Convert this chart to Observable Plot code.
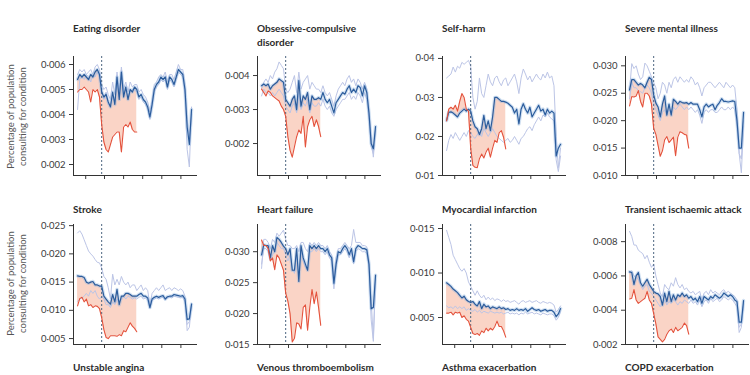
<!DOCTYPE html>
<html><head><meta charset="utf-8">
<script src="https://cdn.jsdelivr.net/npm/d3@7"></script>
<script src="https://cdn.jsdelivr.net/npm/@observablehq/plot@0.6"></script>
<style>
body{margin:0;background:#fff;overflow:hidden}
#root{position:relative;width:750px;height:375px;overflow:hidden;font-family:Lato,"Open Sans",sans-serif;background:#fff}
.title{position:absolute;font-weight:700;font-size:10px;line-height:14px;color:#2b2b2b;white-space:nowrap}
.title.next{line-height:12px}
.ylab{position:absolute;width:130px;font-size:9.5px;line-height:11.5px;color:#555;text-align:center;transform:rotate(-90deg);white-space:nowrap}
.panel{position:absolute}
</style></head><body><div id="root"></div>
<script>
// ---- x: weekly dates, lockdown, tick marks (unlabelled) ----
const firstWeek = "2020-01-06";
const nWeeks = 53;
const lockdownDate = "2020-03-23";
const xTickDates = ["2020-02-01","2020-04-01","2020-06-01","2020-08-01","2020-10-01","2020-12-01"];
const xDomainDates = ["2019-12-24","2021-01-23"];

// ---- titles ----
const titles = [["Eating disorder"],["Obsessive-compulsive","disorder"],["Self-harm"],["Severe mental illness"],
  ["Stroke"],["Heart failure"],["Myocardial infarction"],["Transient ischaemic attack"]];
const nextRowTitles = ["Unstable angina","Venous thromboembolism","Asthma exacerbation","COPD exacerbation"];
const yAxisLabel = ["Percentage of population","consulting for condition"];

// ---- y tick values ----
const eatingTicks=[0.002,0.003,0.004,0.005,0.006];
const ocdTicks=[0.002,0.003,0.004];
const selfHarmTicks=[0.01,0.02,0.03,0.04];
const smiTicks=[0.010,0.015,0.020,0.025,0.030];
const strokeTicks=[0.005,0.010,0.015,0.020,0.025];
const hfTicks=[0.015,0.020,0.025,0.030];
const miTicks=[0.005,0.010,0.015];
const tiaTicks=[0.002,0.004,0.006,0.008];

// ---- series: blue = expected, light1/light2 = comparison years, red = observed 2020 ----
const eatingBlue=[.0054,.0056,.0055,.0056,.0055,.0054,.0056,.0055,.0057,.0058,.0056,.0049,.0047,.0048,.0045,.0043,.0049,.0044,.0055,.0046,.0057,.0047,.0051,.0046,.0050,.0049,.0051,.0050,.0047,.0048,.0046,.0045,.0043,.0039,.0044,.0050,.0052,.0053,.0055,.0054,.0055,.0051,.0055,.0054,.0052,.0055,.0058,.0057,.0056,.0050,.0035,.0028,.0042];
const eatingLight1=[.0056,.0058,.0057,.0058,.0056,.0057,.0058,.0056,.0059,.0060,.0058,.0052,.0050,.0051,.0048,.0046,.0053,.0048,.0057,.0049,.0059,.0050,.0053,.0049,.0053,.0051,.0052,.0052,.0049,.0050,.0048,.0047,.0045,.0041,.0046,.0052,.0053,.0055,.0056,.0055,.0057,.0053,.0056,.0056,.0054,.0057,.0060,.0058,.0058,.0052,.0038,.0030,.0040];
const eatingLight2=[.0042,.0054,.0055,.0054,.0056,.0055,.0053,.0056,.0055,.0057,.0055,.0050,.0046,.0049,.0044,.0044,.0047,.0045,.0053,.0047,.0054,.0048,.0050,.0047,.0049,.0050,.0050,.0049,.0046,.0047,.0045,.0044,.0042,.0038,.0043,.0049,.0051,.0052,.0054,.0053,.0054,.0050,.0054,.0053,.0051,.0054,.0057,.0056,.0055,.0048,.0026,.0019,.0043];
const eatingRed=[.0049,.0050,.0050,.0051,.0050,.0049,.0045,.0050,.0049,.0050,.0047,.0036,.0029,.0026,.0025,.0028,.0031,.0032,.0033,.0033,.0025,.0035,.0036,.0035,.0037,.0034,.0033,.0033];

const ocdBlue=[.0037,.00375,.0037,.00375,.0036,.0037,.00375,.0038,.0039,.00385,.0038,.0033,.0032,.0031,.0033,.0034,.0030,.00385,.0031,.0034,.0033,.0035,.0030,.0034,.0033,.0033,.00335,.0033,.0035,.0033,.0032,.0033,.0031,.0029,.0032,.0033,.0034,.0035,.00345,.0036,.0037,.0035,.0036,.0035,.0037,.00365,.0034,.0037,.0035,.0029,.0020,.00185,.0025];
const ocdLight1=[.0036,.0038,.0039,.0038,.0040,.0039,.0041,.0042,.0044,.0043,.0042,.0036,.0035,.0036,.0038,.0040,.0035,.0041,.0036,.0038,.0039,.0040,.0036,.0038,.0037,.0036,.0036,.0035,.0037,.0035,.0034,.0035,.0033,.0031,.0034,.0036,.0037,.0038,.0037,.0039,.0040,.0038,.0039,.0037,.0039,.0038,.0036,.0038,.0036,.0030,.0022,.0016,.0024];
const ocdLight2=[.0034,.0036,.0035,.0035,.0034,.0035,.0034,.0035,.0036,.0035,.0034,.0031,.0030,.0029,.0031,.0032,.0029,.0035,.0030,.0032,.0031,.0033,.0029,.0032,.0031,.0031,.0032,.0031,.0033,.0031,.0030,.0031,.0029,.0028,.0030,.0031,.0032,.0033,.0033,.0034,.0035,.0033,.0034,.0033,.0035,.0034,.0032,.0035,.0033,.0027,.0019,.0017,.0024];
const ocdRed=[.0036,.0035,.0034,.00355,.0035,.0034,.00335,.0033,.00325,.0031,.0030,.0028,.0022,.0018,.0016,.0019,.0022,.0024,.0023,.0028,.0019,.0025,.0027,.0028,.0025,.0027,.0025,.0022];

const selfHarmBlue=[.0241,.0262,.0263,.026,.0255,.025,.026,.0265,.027,.0265,.027,.0265,.024,.0225,.022,.0205,.022,.0254,.022,.024,.0215,.025,.030,.030,.0295,.029,.029,.0288,.0285,.028,.0275,.026,.027,.0232,.027,.0284,.027,.026,.0275,.025,.026,.027,.028,.0265,.027,.0255,.027,.026,.0265,.026,.015,.017,.018];
const selfHarmLight1=[.035,.0355,.036,.0378,.0365,.038,.0375,.039,.0385,.039,.0395,.038,.030,.027,.029,.035,.031,.030,.033,.036,.034,.033,.035,.0355,.034,.033,.0345,.035,.033,.034,.035,.036,.034,.031,.035,.0373,.036,.0345,.0355,.034,.035,.036,.035,.0345,.036,.035,.0365,.035,.0355,.033,.020,.012,.017];
const selfHarmLight2=[.0164,.019,.0205,.0195,.021,.020,.019,.020,.021,.020,.0215,.021,.020,.0195,.0205,.021,.020,.022,.021,.020,.021,.022,.021,.020,.0195,.019,.0185,.019,.0195,.0185,.019,.020,.019,.018,.0195,.020,.021,.022,.0225,.0215,.023,.024,.025,.024,.0255,.025,.026,.025,.0245,.024,.014,.011,.015];
const selfHarmRed=[.024,.027,.0275,.027,.028,.0265,.029,.031,.030,.027,.0265,.017,.0126,.0121,.012,.0143,.0155,.0145,.016,.017,.0147,.017,.019,.0185,.021,.0215,.0198,.0168];

const smiBlue=[.0256,.0275,.0275,.027,.0265,.0268,.0265,.026,.027,.0279,.0275,.0247,.0232,.0225,.0207,.023,.0245,.021,.023,.021,.0239,.0235,.023,.0235,.0233,.0232,.0233,.023,.0233,.023,.023,.023,.022,.0207,.0225,.023,.0225,.0228,.023,.022,.0228,.0233,.024,.0235,.0235,.0234,.0235,.0236,.0235,.020,.015,.015,.0215];
const smiLight1=[.0255,.0304,.0295,.030,.0285,.0275,.028,.0305,.030,.029,.028,.027,.026,.024,.025,.027,.0265,.025,.027,.026,.0275,.028,.027,.028,.0275,.027,.0275,.027,.028,.0275,.0265,.027,.026,.0245,.026,.0265,.027,.027,.0265,.026,.0265,.027,.0265,.026,.027,.0265,.026,.0265,.026,.022,.014,.0105,.019];
const smiLight2=[.024,.027,.026,.026,.0255,.0253,.025,.026,.0265,.026,.025,.023,.022,.021,.020,.0215,.022,.021,.022,.0215,.0225,.022,.0225,.023,.0225,.022,.0225,.022,.0225,.022,.0215,.022,.021,.0195,.0215,.022,.0215,.022,.022,.0215,.0215,.022,.0225,.022,.022,.0225,.022,.0225,.022,.019,.014,.013,.020];
const smiRed=[.0227,.0244,.0243,.0245,.0255,.0235,.0225,.025,.025,.0245,.023,.0186,.0175,.0155,.0135,.0145,.0165,.0171,.016,.0165,.017,.0136,.017,.018,.0178,.0175,.0174,.015];

const strokeBlue=[.0161,.016,.016,.0158,.015,.0148,.015,.0151,.0145,.0145,.0143,.0143,.0125,.012,.0115,.0111,.0128,.0115,.0137,.011,.0125,.0125,.013,.013,.0128,.0125,.0125,.0125,.0128,.013,.0125,.0125,.0122,.0105,.012,.0123,.0125,.0123,.0125,.0126,.012,.0124,.0125,.0125,.0128,.0127,.0126,.0125,.0126,.012,.0084,.0085,.0111];
const strokeLight1=[.0237,.0241,.0235,.0225,.0215,.0205,.020,.0196,.019,.0185,.0184,.0175,.016,.0155,.014,.012,.0164,.0145,.0155,.0145,.016,.015,.0145,.015,.014,.0145,.0145,.0135,.014,.0145,.0135,.014,.0135,.011,.013,.0135,.014,.0135,.014,.0145,.0135,.0138,.014,.0135,.014,.0138,.0135,.0138,.0135,.0125,.0064,.007,.011];
const strokeLight2=[.0116,.012,.0122,.0125,.013,.0125,.0135,.013,.0135,.0125,.012,.0125,.012,.011,.011,.0105,.0115,.011,.012,.0115,.012,.0125,.012,.0125,.0123,.012,.0122,.012,.0123,.0125,.012,.0122,.0118,.0103,.0118,.012,.0122,.012,.0122,.0123,.0118,.0122,.0123,.0122,.0125,.0124,.0123,.0122,.0123,.0115,.0075,.008,.0112];
const strokeRed=[.0108,.0121,.0123,.0115,.012,.0108,.011,.0105,.0108,.0107,.0103,.0087,.0066,.0052,.005,.0055,.0055,.0055,.0054,.0057,.0055,.0064,.0062,.007,.0078,.0072,.0068,.0062];

const hfBlue=[.0295,.0311,.031,.031,.029,.031,.030,.0323,.032,.0315,.0309,.0305,.0295,.0305,.027,.027,.0305,.0252,.031,.029,.028,.027,.031,.0305,.031,.0305,.031,.0305,.0305,.030,.0305,.0295,.029,.0249,.028,.030,.0298,.0305,.031,.0305,.0295,.0305,.0284,.0305,.031,.0308,.0305,.0305,.0303,.028,.0208,.021,.0262];
const hfLight1=[.0273,.032,.032,.0315,.0305,.032,.0315,.033,.0325,.033,.0335,.032,.031,.031,.0305,.0305,.031,.030,.0315,.0315,.0305,.030,.0315,.031,.0315,.031,.0315,.031,.031,.0305,.031,.030,.0295,.026,.029,.0305,.0305,.031,.0315,.031,.0305,.031,.0336,.0315,.0315,.0315,.031,.031,.0308,.0285,.022,.016,.026];
const hfLight2=[.028,.0305,.0305,.030,.0285,.0295,.030,.0315,.031,.0305,.0305,.0295,.0285,.0295,.0275,.0265,.0295,.026,.030,.0285,.0275,.027,.030,.030,.0305,.030,.0305,.030,.030,.0295,.030,.029,.0285,.024,.0275,.0295,.0295,.030,.0305,.030,.029,.030,.028,.030,.0305,.0303,.030,.030,.0298,.0275,.019,.0155,.0255];
const hfRed=[.0319,.031,.031,.0305,.0285,.029,.0271,.0295,.029,.028,.027,.0233,.022,.020,.0154,.016,.0185,.0183,.0175,.021,.0214,.0173,.021,.0239,.0216,.0235,.021,.0181];

const miBlue=[.0089,.0087,.0085,.0082,.008,.0078,.0075,.0072,.0074,.007,.0068,.0067,.0068,.0065,.0063,.0068,.006,.0065,.0062,.0063,.006,.0062,.0061,.006,.0062,.006,.0061,.0059,.006,.0058,.0059,.0058,.006,.0058,.0059,.0058,.006,.0057,.0059,.0061,.0059,.0058,.0059,.0057,.0058,.0059,.0057,.0058,.0058,.0056,.0051,.0054,.006];
const miLight1=[.0148,.014,.0132,.012,.0115,.011,.0105,.0102,.0105,.01,.009,.0085,.008,.0075,.008,.0075,.0072,.0075,.007,.0073,.007,.0072,.0069,.0071,.007,.0068,.007,.0068,.0069,.0067,.0068,.0069,.0067,.0065,.0068,.0069,.0067,.0068,.0069,.0067,.0068,.0069,.0067,.0066,.0068,.0067,.0066,.0067,.0066,.0064,.0056,.0059,.0063];
const miLight2=[.0063,.0061,.0062,.006,.0063,.006,.0062,.006,.0062,.0058,.006,.0058,.0057,.0059,.0056,.0058,.0055,.0057,.0056,.0055,.0057,.0056,.0055,.0056,.0055,.0056,.0054,.0055,.0056,.0054,.0055,.0054,.0055,.0053,.0055,.0054,.0056,.0054,.0055,.0056,.0054,.0055,.0054,.0053,.0055,.0054,.0053,.0054,.0054,.0052,.0047,.005,.0057];
const miRed=[.0055,.0055,.0056,.0053,.0056,.0055,.0056,.005,.0052,.0048,.0046,.0039,.0032,.0031,.0032,.003,.0035,.0033,.0038,.0035,.0038,.0036,.004,.0046,.004,.004,.0035,.0028];

const tiaBlue=[.00624,.0062,.0055,.006,.0062,.0056,.0054,.0056,.0058,.0055,.0053,.0051,.005,.00495,.0048,.0043,.005,.0045,.0051,.0045,.0049,.0046,.0049,.0048,.005,.0048,.0049,.0047,.0048,.0046,.0047,.0045,.0048,.0044,.0048,.0047,.0046,.0048,.0047,.0049,.0048,.0047,.0048,.005,.0049,.0048,.0049,.0048,.0046,.0045,.0033,.0033,.00456];
const tiaLight1=[.0086,.0083,.0078,.0078,.0075,.0074,.0073,.007,.0072,.0068,.0065,.0067,.006,.0055,.005,.0048,.0055,.0053,.0052,.0056,.0054,.0059,.0055,.0053,.0055,.0052,.0053,.0051,.005,.0051,.0049,.005,.0051,.0046,.005,.0051,.0049,.0052,.005,.0051,.005,.0049,.0051,.0052,.005,.0051,.005,.0049,.0048,.0046,.003,.0032,.0043];
const tiaLight2=[.0062,.0063,.006,.0059,.0058,.0055,.0052,.0054,.0055,.0051,.005,.0048,.0046,.0044,.0042,.0044,.0046,.0043,.0045,.0044,.0046,.0045,.0043,.0045,.0044,.0046,.0045,.0044,.0046,.0044,.0045,.0043,.0046,.0042,.0045,.0046,.0044,.0047,.0045,.0046,.0047,.0045,.0046,.0048,.0047,.0046,.0047,.0046,.0044,.0042,.0027,.003,.0044];
const tiaRed=[.00466,.0047,.0052,.0046,.0044,.0045,.0046,.0047,.0051,.0046,.0044,.0038,.0032,.00244,.0023,.00215,.0023,.0026,.0028,.0029,.0027,.003,.0028,.0029,.003,.00325,.0031,.0026];

// ---- layout ----
const colAxisX = [73, 257, 442, 625];
const rowGeom = [{plotTop:56, plotBottom:175, titleTop:21, labelMid:116},
                 {plotTop:224, plotBottom:344, titleTop:202, labelMid:283}];
const mL = 45, mR = 4, mT = 4, mB = 12, plotW = 124;

const panels = [
  {blue:eatingBlue,l1:eatingLight1,l2:eatingLight2,red:eatingRed,ticks:eatingTicks,domain:[0.00156,0.00632],fmt:".3f"},
  {blue:ocdBlue,l1:ocdLight1,l2:ocdLight2,red:ocdRed,ticks:ocdTicks,domain:[0.00106,0.00456],fmt:".3f"},
  {blue:selfHarmBlue,l1:selfHarmLight1,l2:selfHarmLight2,red:selfHarmRed,ticks:selfHarmTicks,domain:[0.0100,0.0405],fmt:".2f"},
  {blue:smiBlue,l1:smiLight1,l2:smiLight2,red:smiRed,ticks:smiTicks,domain:[0.0100,0.0317],fmt:".3f"},
  {blue:strokeBlue,l1:strokeLight1,l2:strokeLight2,red:strokeRed,ticks:strokeTicks,domain:[0.00395,0.0252],fmt:".3f"},
  {blue:hfBlue,l1:hfLight1,l2:hfLight2,red:hfRed,ticks:hfTicks,domain:[0.0150,0.0344],fmt:".3f"},
  {blue:miBlue,l1:miLight1,l2:miLight2,red:miRed,ticks:miTicks,domain:[0.00197,0.01545],fmt:".3f"},
  {blue:tiaBlue,l1:tiaLight1,l2:tiaLight2,red:tiaRed,ticks:tiaTicks,domain:[0.0020,0.0090],fmt:".3f"}
];

const root = document.getElementById("root");
const start = new Date(firstWeek + "T00:00:00Z");
const weeks = d3.range(nWeeks).map(i => d3.utcDay.offset(start, 7 * i));
const xDomain = xDomainDates.map(s => new Date(s + "T00:00:00Z"));
const xTicks = xTickDates.map(s => new Date(s + "T00:00:00Z"));
const lockdown = new Date(lockdownDate + "T00:00:00Z");

panels.forEach((p, k) => {
  const col = k % 4, row = Math.floor(k / 4);
  const g = rowGeom[row];
  const plotH = g.plotBottom - g.plotTop;
  const rows = weeks.map((d, i) => ({date: d, blue: p.blue[i], l1: p.l1[i], l2: p.l2[i]}));
  const obs = p.red.map((v, i) => ({date: weeks[i], red: v, blue: p.blue[i]}));
  const fmt = d3.format(p.fmt);
  const chart = Plot.plot({
    width: mL + plotW + mR, height: mT + plotH + mB,
    marginLeft: mL, marginRight: mR, marginTop: mT, marginBottom: mB,
    style: {fontFamily: "Lato, 'Open Sans', sans-serif", fontSize: "9.5px", color: "#3a3a3a", background: "transparent", overflow: "visible"},
    x: {type: "utc", domain: xDomain, ticks: xTicks, tickFormat: () => "", tickSize: 4, label: null},
    y: {domain: p.domain, ticks: p.ticks, tickFormat: d => fmt(d).replace(".", "\u00b7"), tickSize: 4, tickPadding: 4, label: null},
    marks: [
      Plot.areaY(obs, {x: "date", y1: "red", y2: "blue", fill: "#f7bda8", fillOpacity: 0.65}),
      Plot.line(rows, {x: "date", y: "l1", stroke: "#bcc5e6", strokeWidth: 1}),
      Plot.line(rows, {x: "date", y: "l2", stroke: "#bcc5e6", strokeWidth: 1}),
      Plot.line(rows, {x: "date", y: "blue", stroke: "#8fb3df", strokeWidth: 3.5, strokeOpacity: 0.4}),
      Plot.ruleX([lockdown], {stroke: "#4d6680", strokeDasharray: "2,2", strokeWidth: 1}),
      Plot.line(rows, {x: "date", y: "blue", stroke: "#2b5c9c", strokeWidth: 1.2}),
      Plot.line(obs, {x: "date", y: "red", stroke: "#e4533d", strokeWidth: 1.1}),
      Plot.ruleX([xDomain[0]], {stroke: "#333", strokeWidth: 1}),
      Plot.ruleY([p.domain[0]], {stroke: "#333", strokeWidth: 1})
    ]
  });
  chart.classList.add("panel");
  chart.style.left = (colAxisX[col] - mL) + "px";
  chart.style.top = (g.plotTop - mT) + "px";
  root.appendChild(chart);

  const t = document.createElement("div");
  t.className = "title";
  t.style.left = colAxisX[col] + "px";
  t.style.top = g.titleTop + "px";
  t.innerHTML = titles[k].join("<br>");
  root.appendChild(t);
});

rowGeom.forEach(g => {
  const l = document.createElement("div");
  l.className = "ylab";
  l.style.left = (16 - 65) + "px";
  l.style.top = (g.labelMid - 11.5) + "px";
  l.innerHTML = yAxisLabel.join("<br>");
  root.appendChild(l);
});

nextRowTitles.forEach((s, c) => {
  const t = document.createElement("div");
  t.className = "title next";
  t.style.left = colAxisX[c] + "px";
  t.style.top = "361px";
  t.textContent = s;
  root.appendChild(t);
});
</script>
</body></html>
